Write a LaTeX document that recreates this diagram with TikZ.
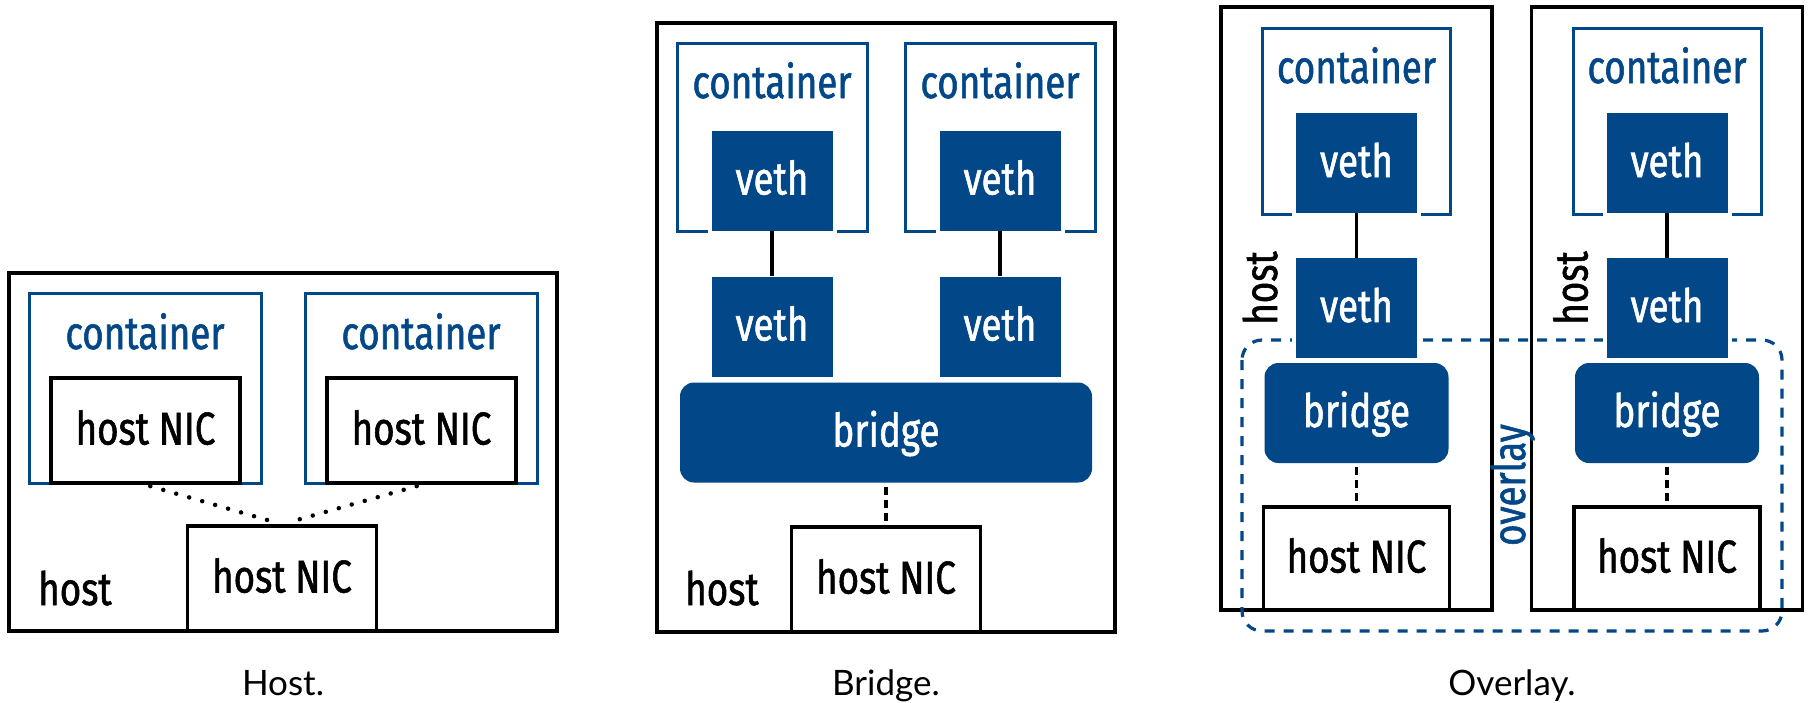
\documentclass[tikz,border=0pt]{standalone}
\usepackage{fontspec}
\setmainfont{Fira Sans}[FakeStretch=0.8,FakeBold=1.2]
\newfontfamily\capfont{Lato}
\definecolor{NetBlue}{RGB}{2,71,135}
\tikzset{
	hostbox/.style={draw=black,line width=3.5pt,inner sep=0pt},
	ctr/.style={draw=NetBlue,line width=3pt,inner sep=0pt},
	ctrtext/.style={text=NetBlue,anchor=base,inner sep=0pt},
	veth/.style={fill=NetBlue,text=white,inner sep=0pt,minimum width=121pt,minimum height=100pt,
		text height=34pt,text depth=6pt,preaction={draw=white,line width=8pt}},
	bridge/.style={fill=NetBlue,text=white,rounded corners=14pt,inner sep=0pt,minimum height=100pt,
		text height=34pt,text depth=6pt},
	nic/.style={draw=black,fill=white,line width=3.5pt,inner sep=0pt,minimum width=189pt,minimum height=105pt,
		text height=34pt,text depth=6pt},
	link/.style={draw=black,line width=3.5pt},
	softlink/.style={draw=black,line width=3.5pt,dash pattern=on 8pt off 5pt,shorten <=4pt,shorten >=4pt},
	dotlink/.style={draw=black,line width=4.5pt,line cap=round,dash pattern=on 0pt off 13.5pt,
		shorten <=5pt,shorten >=9pt},
	overlaybox/.style={draw=NetBlue,line width=3.2pt,dash pattern=on 10pt off 9pt,rounded corners=20pt},
	caption/.style={font=\capfont\fontsize{35}{40}\selectfont,anchor=base},
}
\begin{document}
\begin{tikzpicture}[x=1pt,y=-1pt,font=\fontsize{46}{50}\selectfont]
	\useasboundingbox (0,0) rectangle (1812,702);

	% host networking
	\node[hostbox,minimum width=548pt,minimum height=358pt] (hostH) at (283,452) {};
	\foreach \i/\x in {1/145,2/421}{
		\node[ctr,minimum width=232pt,minimum height=190pt] (ctrH\i) at (\x,388) {};
		\node[ctrtext] (ctrHlbl\i) at (\x,349) {container};
		\node[nic] (nicH\i) at (\x+0.5,430.5) {host NIC};
	}
	\node[nic] (nicH) at (282,578.5) {host NIC};
	\node[anchor=base west,inner sep=0pt] (hostHlbl) at (38,605) {host};
	\foreach \i in {1,2}
		\draw[dotlink] (nicH\i.south) -- (nicH.north);
	\node[caption] (capH) at (283,695) {Host.};

	% bridge networking
	\node[hostbox,minimum width=458pt,minimum height=609pt] (hostB) at (886,327.5) {};
	\foreach \i/\x in {1/772,2/1000}{
		\node[ctr,minimum width=190pt,minimum height=188pt] (ctrB\i) at (\x,137) {};
		\node[ctrtext] (ctrBlbl\i) at (\x,98) {container};
		\node[veth] (vethBin\i) at (\x,180.5) {veth};
		\node[veth] (vethBout\i) at (\x,326.5) {veth};
		\draw[link] (vethBin\i) -- (vethBout\i);
	}
	\node[bridge,minimum width=412pt] (brB) at (886,432.5) {bridge};
	\node[nic] (nicB) at (886,579.5) {host NIC};
	\draw[softlink] (brB) -- (nicB);
	\node[anchor=base west,inner sep=0pt] (hostBlbl) at (685,605) {host};
	\node[caption] (capB) at (886,695) {Bridge.};

	% overlay networking
	\foreach \i/\x in {1/1356.5,2/1667}{
		\node[hostbox,minimum width=271pt,minimum height=603pt] (hostO\i) at (\x,308.5) {};
		\node[ctr,minimum width=188pt,minimum height=186pt] (ctrO\i) at (\x,121) {};
		\node[ctrtext] (ctrOlbl\i) at (\x,83) {container};
		\node[rotate=90,anchor=base,inner sep=0pt] (hostOlbl\i) at (\x-79.5,288) {host};
	}
	\draw[overlaybox] (1242,340) rectangle (1782,631);
	\node[ctrtext,rotate=90] (ovlbl) at (1525,485) {overlay};
	\foreach \i/\x in {1/1356.5,2/1667}{
		\node[veth] (vethOin\i) at (\x,163) {veth};
		\node[veth] (vethOout\i) at (\x,308) {veth};
		\node[bridge,minimum width=184pt] (brO\i) at (\x,413) {bridge};
		\node[nic,minimum width=186pt,minimum height=103pt] (nicO\i) at (\x,558.5) {host NIC};
		\draw[link] (vethOin\i) -- (vethOout\i);
		\draw[softlink] (brO\i) -- (nicO\i);
	}
	\node[caption] (capO) at (1512,695) {Overlay.};
\end{tikzpicture}
\end{document}
